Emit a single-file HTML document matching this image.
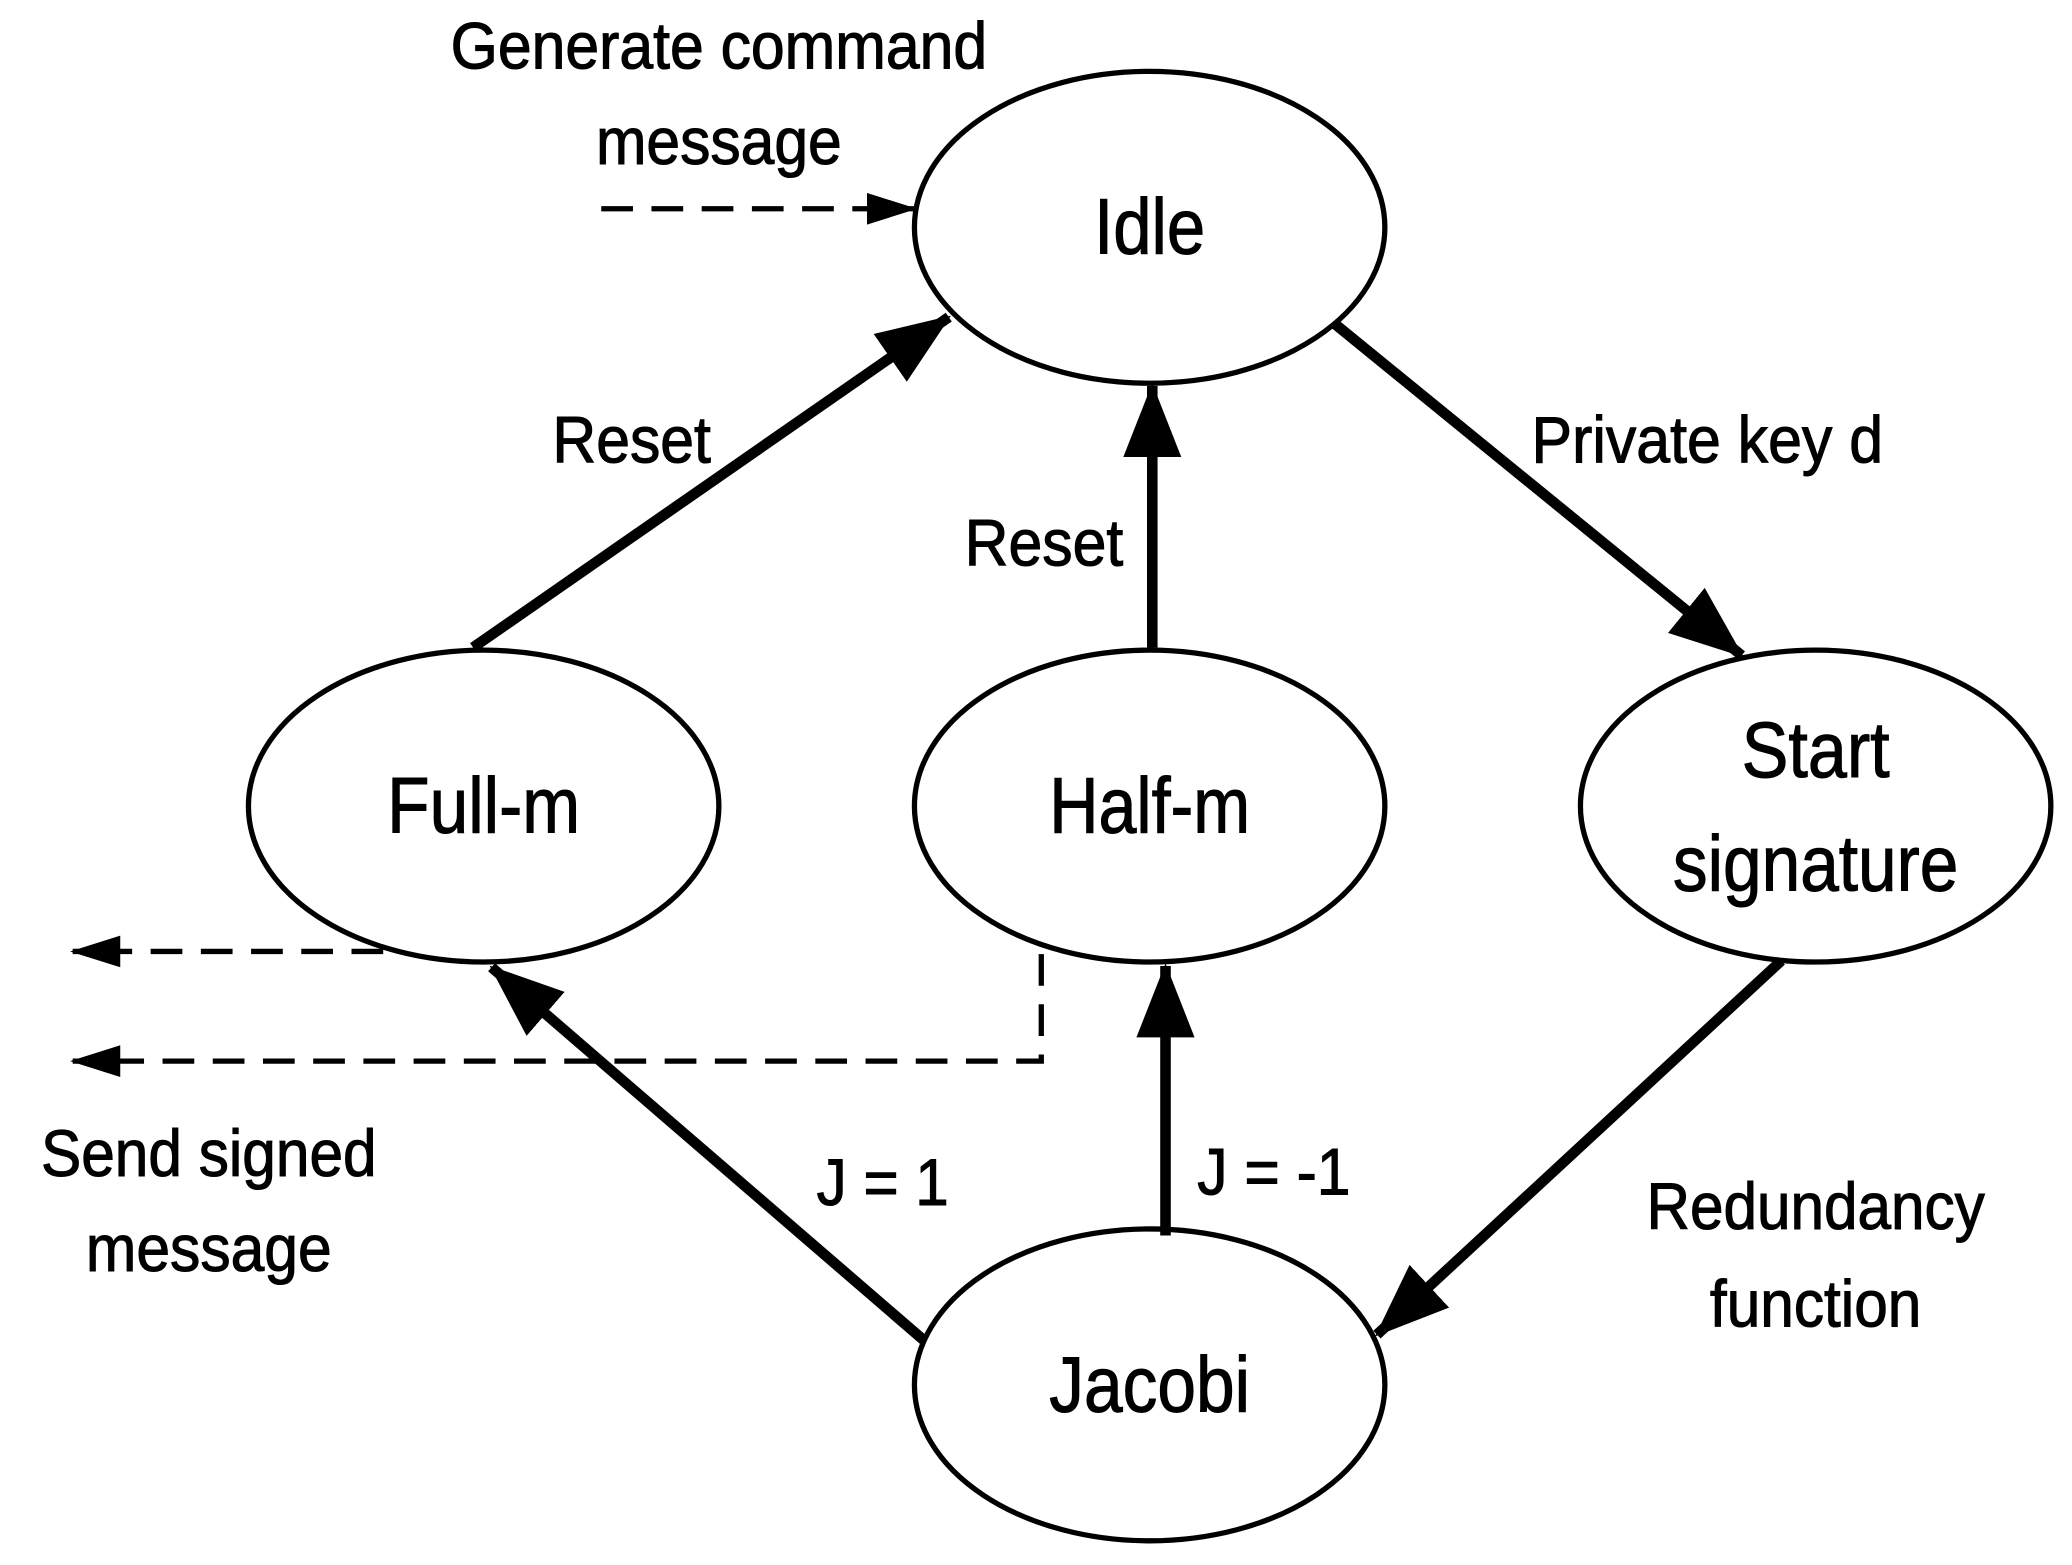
<!DOCTYPE html>
<html><head><meta charset="utf-8"><style>html,body{margin:0;padding:0;background:#fff}svg{display:block}</style></head>
<body>
<svg width="2072" height="1565" viewBox="0 0 1568 1184.3" preserveAspectRatio="none" xmlns="http://www.w3.org/2000/svg" font-family="Liberation Sans, Arial, sans-serif">
<defs>
<marker id="big" markerUnits="userSpaceOnUse" markerWidth="60" markerHeight="50" refX="54" refY="22" orient="auto"><path d="M0,0 L56,22 L0,44 Z" fill="#000"/></marker>
<marker id="sm" markerUnits="userSpaceOnUse" markerWidth="40" markerHeight="30" refX="36" refY="12" orient="auto"><path d="M0,0 L38,12 L0,24 Z" fill="#000"/></marker>
</defs>
<g fill="none" stroke="#000" stroke-width="4">
<ellipse cx="870" cy="172" rx="178" ry="118"/>
<ellipse cx="366" cy="610" rx="178" ry="118"/>
<ellipse cx="870" cy="610" rx="178" ry="118"/>
<ellipse cx="1374" cy="610" rx="178" ry="118"/>
<ellipse cx="870" cy="1048" rx="178" ry="118"/>
</g>
<g stroke="#000" stroke-width="8" fill="none">
<line x1="358" y1="490" x2="718" y2="240" marker-end="url(#big)"/>
<line x1="872" y1="490" x2="872" y2="292" marker-end="url(#big)"/>
<line x1="1010" y1="245" x2="1318" y2="496" marker-end="url(#big)"/>
<line x1="1348" y1="727" x2="1042" y2="1010" marker-end="url(#big)"/>
<line x1="700" y1="1015" x2="372" y2="732" marker-end="url(#big)"/>
<line x1="882" y1="935" x2="882" y2="731" marker-end="url(#big)"/>
</g>
<g stroke="#000" stroke-width="4" fill="none" stroke-dasharray="24,14">
<line x1="455" y1="158" x2="692" y2="158" marker-end="url(#sm)"/>
<line x1="290" y1="720" x2="55" y2="720" marker-end="url(#sm)"/>
<polyline points="788,722 788,803 55,803" marker-end="url(#sm)"/>
</g>
<g font-size="60" text-anchor="middle" fill="#000" stroke="#000" stroke-width="0.8">
<text x="870" y="192" textLength="84" lengthAdjust="spacingAndGlyphs">Idle</text>
<text x="366" y="630" textLength="146" lengthAdjust="spacingAndGlyphs">Full-m</text>
<text x="870" y="630" textLength="152" lengthAdjust="spacingAndGlyphs">Half-m</text>
<text x="1374" y="588" textLength="112" lengthAdjust="spacingAndGlyphs">Start</text>
<text x="1374" y="674" textLength="216" lengthAdjust="spacingAndGlyphs">signature</text>
<text x="870" y="1068" textLength="152" lengthAdjust="spacingAndGlyphs">Jacobi</text>
</g>
<g font-size="50" text-anchor="middle" fill="#000" stroke="#000" stroke-width="0.8">
<text x="544" y="52" textLength="406" lengthAdjust="spacingAndGlyphs">Generate command</text>
<text x="544" y="124" textLength="186" lengthAdjust="spacingAndGlyphs">message</text>
<text x="478" y="350" textLength="120" lengthAdjust="spacingAndGlyphs">Reset</text>
<text x="790" y="428" textLength="120" lengthAdjust="spacingAndGlyphs">Reset</text>
<text x="1292" y="350" textLength="266" lengthAdjust="spacingAndGlyphs">Private key d</text>
<text x="158" y="890" textLength="254" lengthAdjust="spacingAndGlyphs">Send signed</text>
<text x="158" y="962" textLength="186" lengthAdjust="spacingAndGlyphs">message</text>
<text x="668" y="912" textLength="100" lengthAdjust="spacingAndGlyphs">J = 1</text>
<text x="964" y="904" textLength="116" lengthAdjust="spacingAndGlyphs">J = -1</text>
<text x="1374" y="930" textLength="256" lengthAdjust="spacingAndGlyphs">Redundancy</text>
<text x="1374" y="1004" textLength="160" lengthAdjust="spacingAndGlyphs">function</text>
</g>
</svg>
</body></html>
